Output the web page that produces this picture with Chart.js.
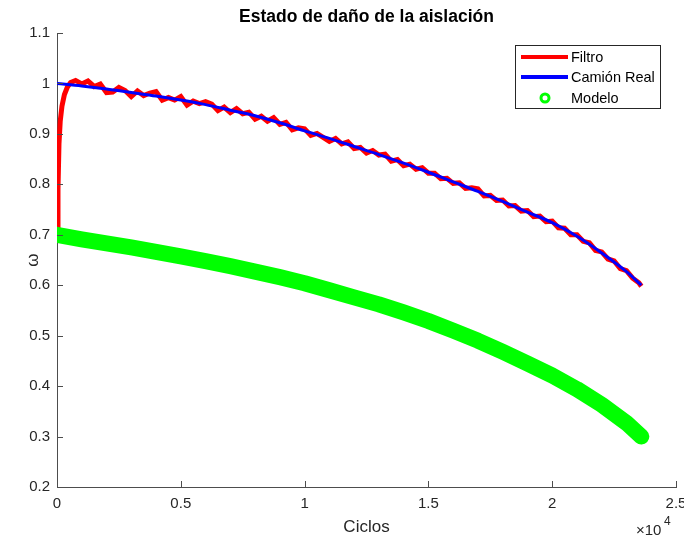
<!DOCTYPE html>
<html>
<head>
<meta charset="utf-8">
<script src="https://cdn.jsdelivr.net/npm/chart.js@4"></script>
<style>
  html, body { margin: 0; padding: 0; background: #fff; }
  canvas { display: block; }
</style>
</head>
<body>
<canvas id="danoChart" width="684" height="538"></canvas>
<script>
// ciclos (x) compartidos por Camión Real y Modelo
const ciclos = [0, 1000, 2000, 3000, 4000, 5000, 6000, 7000, 8000, 9000, 10000, 11000,
  12000, 13000, 14000, 15000, 16000, 17000, 18000, 19000, 20000, 21000, 22000, 23000, 23600];

const camionReal = [1.000, 0.995, 0.989, 0.982, 0.975, 0.967, 0.958, 0.947, 0.936, 0.922, 0.906, 0.891,
  0.875, 0.859, 0.842, 0.824, 0.805, 0.786, 0.766, 0.745, 0.724, 0.697, 0.664, 0.627, 0.600];

const modelo = [0.700, 0.691, 0.683, 0.675, 0.666, 0.657, 0.648, 0.638, 0.627, 0.616, 0.604, 0.590,
  0.576, 0.562, 0.546, 0.529, 0.510, 0.490, 0.468, 0.445, 0.421, 0.394, 0.363, 0.327, 0.300];

const ciclosFiltro = [0, 40, 80, 130, 200, 300, 420, 550,
  750, 1000, 1250, 1500, 1750, 2000, 2250, 2500, 2750, 3000, 3250, 3500, 3750, 4000,
  4250, 4500, 4750, 5000, 5250, 5500, 5750, 6000, 6250, 6500, 6750, 7000, 7250, 7500,
  7750, 8000, 8250, 8500, 8750, 9000, 9250, 9500, 9750, 10000, 10250, 10500, 10750, 11000,
  11250, 11500, 11750, 12000, 12250, 12500, 12750, 13000, 13250, 13500, 13750, 14000,
  14250, 14500, 14750, 15000, 15250, 15500, 15750, 16000, 16250, 16500, 16750, 17000,
  17250, 17500, 17750, 18000, 18250, 18500, 18750, 19000, 19250, 19500, 19750, 20000,
  20250, 20500, 20750, 21000, 21250, 21500, 21750, 22000, 22250, 22500, 22750, 23000,
  23250, 23500, 23600];

const filtro = [0.700, 0.790, 0.880, 0.925, 0.955, 0.978, 0.993, 1.002,
  1.006, 0.999, 1.005, 0.994, 0.999, 0.982, 0.983, 0.992, 0.986, 0.974, 0.985, 0.976, 0.981, 0.984,
  0.967, 0.972, 0.967, 0.974, 0.957, 0.965, 0.960, 0.964, 0.959, 0.946, 0.953, 0.942, 0.950, 0.940,
  0.943, 0.929, 0.935, 0.925, 0.932, 0.919, 0.923, 0.908, 0.912, 0.910, 0.897, 0.901, 0.893, 0.885,
  0.891, 0.880, 0.884, 0.871, 0.873, 0.862, 0.867, 0.858, 0.860, 0.846, 0.849, 0.837,
  0.840, 0.830, 0.833, 0.822, 0.822, 0.811, 0.812, 0.802, 0.803, 0.792, 0.793, 0.791,
  0.777, 0.778, 0.768, 0.769, 0.757, 0.758, 0.747, 0.748, 0.736, 0.737, 0.726, 0.727,
  0.714, 0.713, 0.700, 0.700, 0.687, 0.684, 0.669, 0.666, 0.652, 0.648, 0.633, 0.629,
  0.614, 0.605, 0.598];

const xTicks = [0, 5000, 10000, 15000, 20000, 25000];
const yTicks = [0.2, 0.3, 0.4, 0.5, 0.6, 0.7, 0.8, 0.9, 1.0, 1.1];

const titulo = 'Estado de daño de la aislación';
const etiquetaX = 'Ciclos';
const etiquetaY = 'ω';
const leyenda = ['Filtro', 'Camión Real', 'Modelo'];

const FONT = '"Liberation Sans", Arial, Helvetica, sans-serif';
const TXT = '#262626';
const AXIS = '#4d4d4d';

function pares(xs, ys) {
  return xs.map((x, i) => ({ x: x, y: ys[i] }));
}

// textos, ticks hacia adentro y leyenda estilo MATLAB
const extras = {
  id: 'extras',
  afterDatasetsDraw(chart) {
    const ctx = chart.ctx;
    const a = chart.chartArea;
    const sx = chart.scales.x, sy = chart.scales.y;
    ctx.save();

    // ticks interiores
    ctx.strokeStyle = AXIS;
    ctx.lineWidth = 1;
    ctx.beginPath();
    xTicks.forEach(v => {
      const px = Math.round(sx.getPixelForValue(v)) + 0.5;
      ctx.moveTo(px, a.bottom);
      ctx.lineTo(px, a.bottom - 6);
    });
    yTicks.forEach(v => {
      const py = Math.round(sy.getPixelForValue(v)) + 0.5;
      ctx.moveTo(a.left, py);
      ctx.lineTo(a.left + 6, py);
    });
    ctx.stroke();

    // titulo
    ctx.fillStyle = '#000';
    ctx.font = 'bold 17.5px ' + FONT;
    ctx.textAlign = 'center';
    ctx.textBaseline = 'middle';
    ctx.fillText(titulo, (a.left + a.right) / 2, 17);

    // etiquetas de ejes
    ctx.fillStyle = TXT;
    ctx.font = '17px ' + FONT;
    ctx.fillText(etiquetaX, (a.left + a.right) / 2, 527);
    ctx.save();
    ctx.translate(33, (a.top + a.bottom) / 2);
    ctx.rotate(-Math.PI / 2);
    ctx.fillText(etiquetaY, 0, 0);
    ctx.restore();

    // x10^4
    ctx.font = '15px ' + FONT;
    ctx.textAlign = 'left';
    ctx.fillText('\u00d710', 636, 531);
    ctx.font = '12px ' + FONT;
    ctx.fillText('4', 664, 522);

    // leyenda
    const bx = 515.5, by = 45.5, bw = 145, bh = 63;
    ctx.fillStyle = '#fff';
    ctx.fillRect(bx, by, bw, bh);
    ctx.strokeStyle = TXT;
    ctx.lineWidth = 1;
    ctx.strokeRect(bx, by, bw, bh);
    const filas = [57, 77, 98];
    const colores = ['#ff0000', '#0000ff'];
    colores.forEach((c, i) => {
      ctx.strokeStyle = c;
      ctx.lineWidth = 4;
      ctx.beginPath();
      ctx.moveTo(521, filas[i]);
      ctx.lineTo(568, filas[i]);
      ctx.stroke();
    });
    ctx.strokeStyle = '#00ff00';
    ctx.lineWidth = 3;
    ctx.beginPath();
    ctx.arc(545, filas[2], 4, 0, Math.PI * 2);
    ctx.stroke();
    ctx.fillStyle = '#000';
    ctx.font = '14.5px ' + FONT;
    ctx.textAlign = 'left';
    ctx.textBaseline = 'middle';
    leyenda.forEach((t, i) => ctx.fillText(t, 571, filas[i] + 1));

    ctx.restore();
  }
};

const ctx = document.getElementById('danoChart').getContext('2d');

const danoChart = new Chart(ctx, {
  type: 'line',
  data: {
    datasets: [
      {
        label: leyenda[0],
        data: pares(ciclosFiltro, filtro),
        borderColor: '#ff0000',
        borderWidth: 5,
        pointRadius: 0,
        order: 2
      },
      {
        label: leyenda[1],
        data: pares(ciclos, camionReal),
        borderColor: '#0000ff',
        borderWidth: 3,
        cubicInterpolationMode: 'monotone',
        pointRadius: 0,
        order: 1
      },
      {
        label: leyenda[2],
        data: pares(ciclos, modelo),
        borderColor: '#00ff00',
        borderWidth: 16,
        borderCapStyle: 'round',
        borderJoinStyle: 'round',
        pointRadius: 0,
        order: 0
      }
    ]
  },
  options: {
    responsive: false,
    animation: false,
    devicePixelRatio: 1,
    layout: { padding: { top: 33, right: 8, bottom: 0, left: 0 } },
    plugins: {
      legend: { display: false },
      title: { display: false },
      tooltip: { enabled: false }
    },
    scales: {
      x: {
        type: 'linear',
        min: 0,
        max: 25000,
        afterBuildTicks: s => { s.ticks = xTicks.map(v => ({ value: v })); },
        afterFit: s => { s.height = 51; s.paddingLeft = 0; s.paddingRight = 0; },
        grid: { drawOnChartArea: false, drawTicks: false },
        border: { color: AXIS, width: 1 },
        ticks: {
          padding: 8,
          color: TXT,
          font: { family: FONT, size: 15 },
          maxRotation: 0,
          callback: v => String(v / 10000)
        }
      },
      y: {
        min: 0.2,
        max: 1.1,
        afterBuildTicks: s => { s.ticks = yTicks.map(v => ({ value: v })); },
        afterFit: s => { s.width = 57; },
        grid: { drawOnChartArea: false, drawTicks: false },
        border: { color: AXIS, width: 1 },
        ticks: {
          padding: 7,
          color: TXT,
          font: { family: FONT, size: 15 },
          callback: v => String(Number(v.toFixed(1)))
        }
      }
    }
  },
  plugins: [extras]
});
</script>
</body>
</html>
